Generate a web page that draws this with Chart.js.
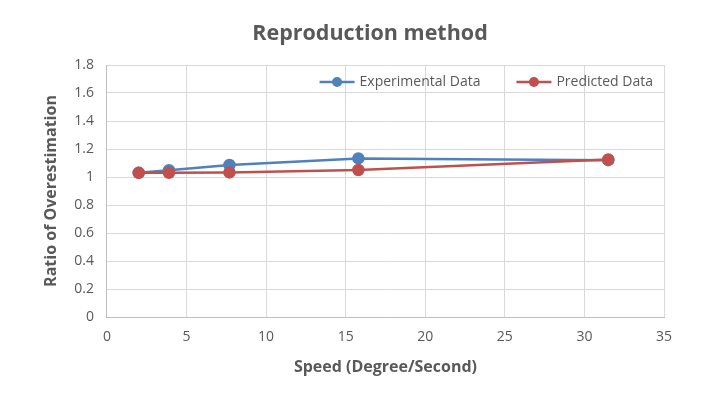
<!DOCTYPE html>
<html>
<head>
<meta charset="utf-8">
<script src="https://cdn.jsdelivr.net/npm/chart.js@4"></script>
<style>
  html, body { margin: 0; padding: 0; background: #fff; }
  #wrap { width: 721px; height: 396px; }
</style>
</head>
<body>
<div id="wrap"><canvas id="myChart" width="721" height="396"></canvas></div>
<script>
// ### data
const speeds = [2, 3.9, 7.7, 15.8, 31.5]
const experimental = [1.03, 1.048, 1.086, 1.133, 1.12]
const predicted = [1.03, 1.03, 1.033, 1.05, 1.125]
const seriesNames = ['Experimental Data', 'Predicted Data']
const yTicks = [0, 0.2, 0.4, 0.6, 0.8, 1, 1.2, 1.4, 1.6, 1.8]
const xTicks = [0, 5, 10, 15, 20, 25, 30, 35]
const chartTitle = 'Reproduction method'

const blue = '#4f81bd'
const red = '#c0504d'
const gray = '#595959'
const font = '"Open Sans", sans-serif'

// ### title: excel puts it a bit right of the canvas centre, so draw it here
const excelTitle = {
    id: 'excelTitle',
    afterDraw(chart) {
        const ctx = chart.ctx
        ctx.save()
        ctx.font = 'bold 21.5px ' + font
        ctx.fillStyle = gray
        ctx.textAlign = 'center'
        ctx.textBaseline = 'middle'
        ctx.fillText(chartTitle, 370, 34)
        ctx.restore()
    }
}

// ### legend drawn inside the plot, top right, excel style (line + dot)
const insideLegend = {
    id: 'insideLegend',
    afterDatasetsDraw(chart) {
        const ctx = chart.ctx
        const area = chart.chartArea
        const lineLen = 35
        const gapText = 5
        const gapItem = 36
        ctx.save()
        ctx.font = '14px ' + font
        ctx.textBaseline = 'middle'
        const items = chart.data.datasets.map(ds => ({
            label: ds.label,
            color: ds.borderColor,
            w: ctx.measureText(ds.label).width
        }))
        let total = 0
        items.forEach((it, i) => {
            total += lineLen + gapText + it.w + (i < items.length - 1 ? gapItem : 0)
        })
        let x = area.right - 11 - total
        const y = area.top + 17
        items.forEach(it => {
            ctx.strokeStyle = it.color
            ctx.lineWidth = 2.5
            ctx.beginPath()
            ctx.moveTo(x, y)
            ctx.lineTo(x + lineLen, y)
            ctx.stroke()
            ctx.fillStyle = it.color
            ctx.beginPath()
            ctx.arc(x + lineLen / 2, y, 5, 0, Math.PI * 2)
            ctx.fill()
            ctx.fillStyle = gray
            ctx.fillText(it.label, x + lineLen + gapText, y)
            x += lineLen + gapText + it.w + gapItem
        })
        ctx.restore()
    }
}

function points(xs, ys) {
    return xs.map((x, i) => ({ x: x, y: ys[i] }))
}

const data = {
    datasets: [{
        label: seriesNames[0],
        data: points(speeds, experimental),
        borderColor: blue,
        backgroundColor: blue,
        borderWidth: 2.5,
        pointRadius: 5,
        pointBackgroundColor: blue,
        pointBorderColor: blue,
        showLine: true,
        order: 2
    }, {
        label: seriesNames[1],
        data: points(speeds, predicted),
        borderColor: red,
        backgroundColor: red,
        borderWidth: 2.5,
        pointRadius: 5,
        pointBackgroundColor: red,
        pointBorderColor: red,
        showLine: true,
        order: 1
    }]
}

const config = {
    type: 'scatter',
    data,
    plugins: [insideLegend, excelTitle],
    options: {
        responsive: false,
        animation: false,
        layout: { padding: { left: 16, right: 57, top: 65, bottom: 15 } },
        plugins: {
            title: { display: false },
            legend: { display: false },
            tooltip: { enabled: false }
        },
        scales: {
            x: {
                type: 'linear',
                min: xTicks[0],
                max: xTicks[xTicks.length - 1],
                afterBuildTicks: axis => { axis.ticks = xTicks.map(v => ({ value: v })) },
                grid: { color: '#d9d9d9', lineWidth: 1, drawTicks: false },
                border: { color: '#bfbfbf' },
                ticks: { color: gray, font: { family: font, size: 14 }, padding: 12 },
                title: {
                    display: true,
                    text: 'Speed (Degree/Second)',
                    color: gray,
                    font: { family: font, size: 16, weight: 'bold' },
                    padding: { top: 0 }
                }
            },
            y: {
                type: 'linear',
                min: yTicks[0],
                max: yTicks[yTicks.length - 1],
                afterBuildTicks: axis => { axis.ticks = yTicks.map(v => ({ value: v })) },
                grid: { color: '#d9d9d9', lineWidth: 1, drawTicks: false },
                border: { color: '#bfbfbf' },
                ticks: {
                    color: gray,
                    font: { family: font, size: 14 },
                    padding: 13,
                    callback: v => String(Number(v.toFixed(1)))
                },
                title: {
                    display: true,
                    text: 'Ratio of Overestimation',
                    color: gray,
                    font: { family: font, size: 16, weight: 'bold' },
                    padding: { top: 26, bottom: 0 }
                }
            }
        }
    }
}

new Chart(document.getElementById('myChart'), config)
</script>
</body>
</html>
